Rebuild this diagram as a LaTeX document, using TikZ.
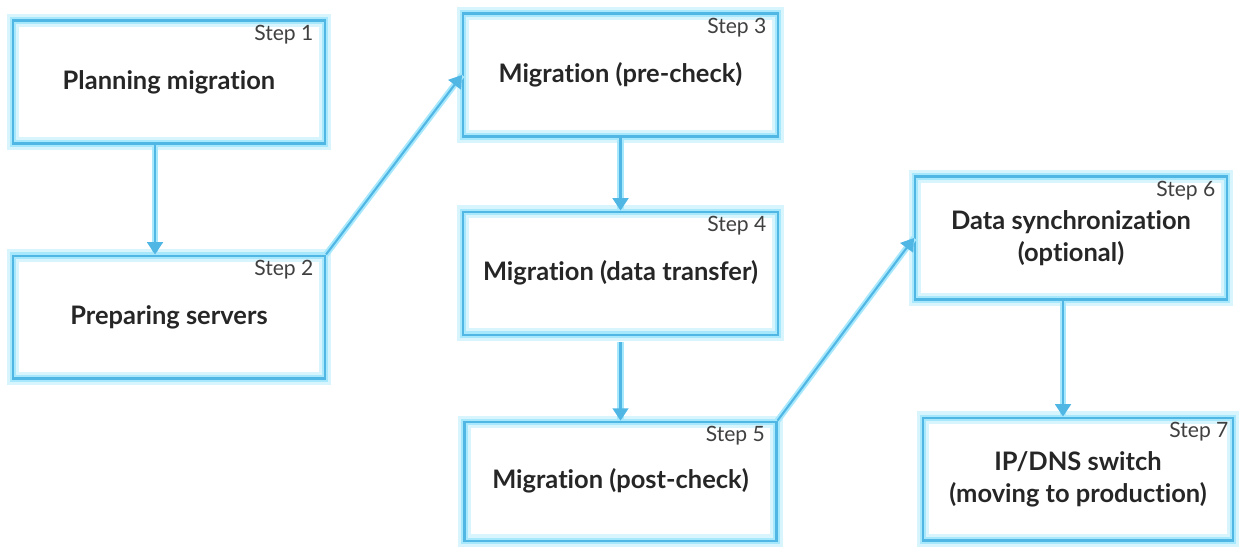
\documentclass[tikz,border=0pt]{standalone}
\usepackage{fontspec}
\setmainfont{Lato}[Ligatures=NoCommon]
\usepackage{tikz}
\usetikzlibrary{arrows.meta}
\usetikzlibrary{positioning}
\definecolor{boxblue}{RGB}{80,182,228}
\definecolor{glowblue}{RGB}{168,232,252}

\begin{document}
\begin{tikzpicture}[x=0.02cm,y=-0.02cm,
                    -{Triangle[width=9pt,length=7pt]},
                    step node/.style={rectangle,draw=boxblue,line width=1.2pt,
                      minimum width=6.24cm,minimum height=2.46cm,align=center,
                      text=black!85,font=\bfseries\fontsize{14.5}{18}\selectfont,
                      preaction={draw=glowblue!45,line width=7pt},
                      preaction={draw=glowblue,line width=3.5pt}},
                    step label/.style={anchor=north east,inner sep=0pt,xshift=-7pt,yshift=-3pt,
                      text=black!75,font=\mdseries\fontsize{12}{14}\selectfont},
                    arrow line/.style={draw=boxblue,line width=1.2pt,
                      preaction={draw=glowblue,line width=3.5pt,-}}]

  \useasboundingbox (0,0) rectangle (1241,547);

  \node[step node,label={[step label]north east:Step 1}] (s1) at (169,82) {Planning migration};
  \node[step node,label={[step label]north east:Step 2}] (s2) [below=2.2cm of s1] {Preparing servers};
  \node[step node,minimum width=6.3cm,label={[step label]north east:Step 3}] (s3) at (620.5,75) {Migration (pre-check)};
  \node[step node,minimum width=6.3cm,label={[step label]north east:Step 4}] (s4) [below=1.46cm of s3] {Migration (data transfer)};
  \node[step node,minimum height=2.38cm,label={[step label]north east:Step 5}] (s5) [below=1.7cm of s4] {Migration (post-check)};
  \node[step node,label={[step label]north east:Step 6}] (s6) at (1071,238) {Data synchronization\\(optional)};
  \node[step node,minimum width=6.2cm,label={[step label,xshift=4pt]north east:Step 7}] (s7) [below=2.32cm of s6,xshift=0.14cm] {IP/DNS switch\\(moving to production)};

  \path[every edge/.append style={arrow line}]
    ([xshift=-0.28cm]s1.south) edge ([xshift=-0.28cm]s2.north)
    (s2.north east) edge (s3.west)
    (s3.south) edge (s4.north)
    ([yshift=-0.12cm]s4.south) edge (s5.north)
    (s5.north east) edge (s6.west)
    ([xshift=-0.16cm]s6.south) edge ([xshift=-0.16cm]s6.south |- s7.north)
  ;
\end{tikzpicture}
\end{document}
